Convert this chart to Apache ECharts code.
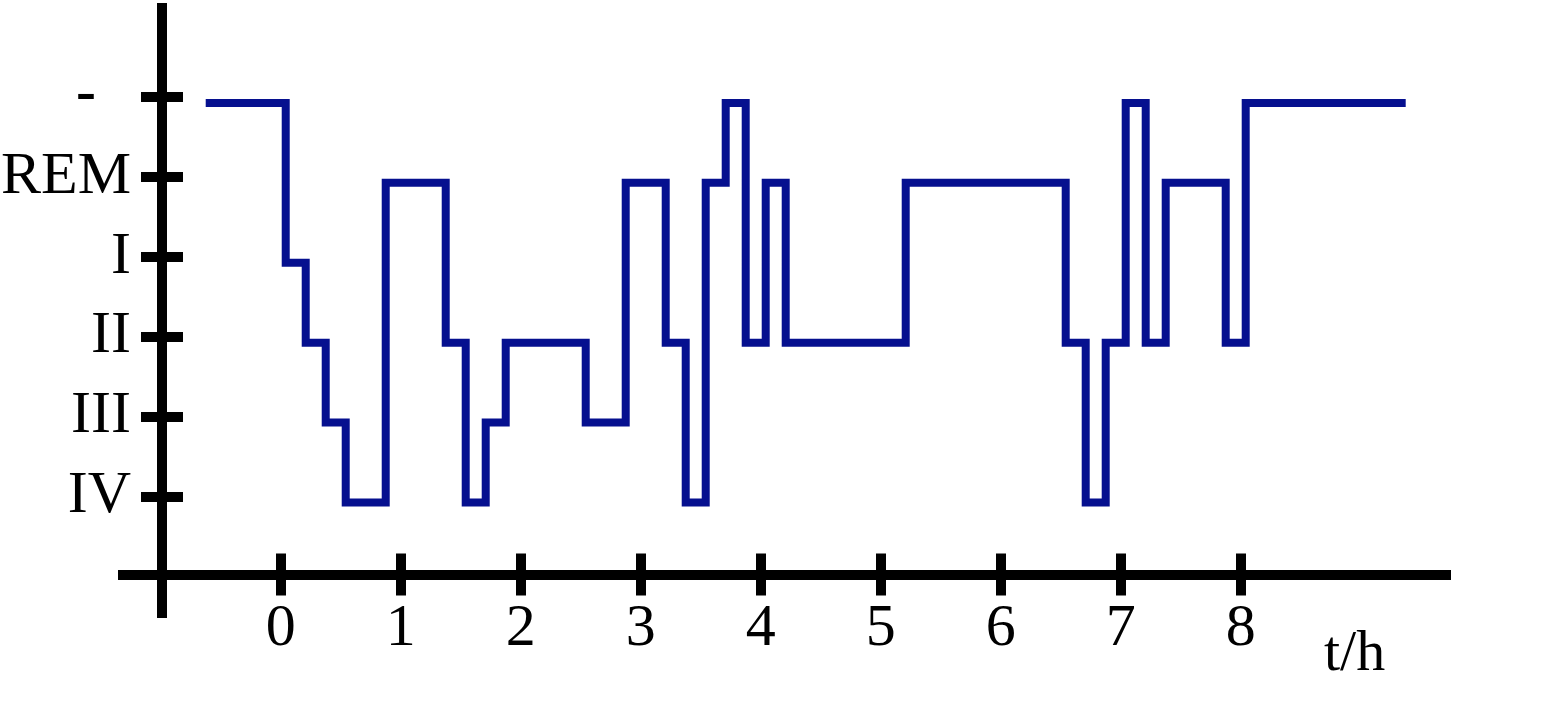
<!DOCTYPE html>
<html>
<head>
<meta charset="utf-8">
<title>Hypnogram</title>
<script src="https://cdn.jsdelivr.net/npm/echarts@6/dist/echarts.min.js"></script>
<style>
    html, body { margin: 0; padding: 0; background: #fff; }
    #chart { width: 1560px; height: 708px; }
</style>
</head>
<body>
<div id="chart"></div>
<script>
// sleep stages, lowest first (IV = deep sleep, '-' = awake)
var stageNames = ['IV', 'III', 'II', 'I', 'REM', '-'];
// start of each stage in minutes after sleep onset (last entry = end of record)
var stageStart = [-40, 0, 10, 20, 30, 50, 80, 90, 100, 110, 150, 170, 190, 200, 210,
    220, 230, 240, 250, 310, 390, 400, 410, 420, 430, 440, 470, 480, 560];
var stageSeq = ['-', 'I', 'II', 'III', 'IV', 'REM', 'II', 'IV', 'III', 'II', 'III', 'REM', 'II', 'IV', 'REM',
    '-', 'II', 'REM', 'II', 'REM', 'II', 'IV', 'II', '-', 'II', 'REM', 'II', '-', '-'];
// tick labels
var hourTicks = [0, 1, 2, 3, 4, 5, 6, 7, 8];
var stageTicks = [1, 2, 3, 4, 5, 6];

(function () {
    var myChart = echarts.init(document.getElementById('chart'));
    var font = 'Liberation Serif';

    // axis ranges (hours / stage level)
    var xMin = -1.356, xMax = 9.7525;
    var yMin = -0.521, yMax = 7.176;
    // the curve is drawn a few pixels right and below the ticks in the original
    var dx = 5 / 120, dy = 6 / 79.9;

    var points = [];
    for (var i = 0; i < stageStart.length; i++) {
        points.push([stageStart[i] / 60, stageNames.indexOf(stageSeq[i]) + 1]);
    }

    var axisLine = { onZero: false, lineStyle: { color: '#000', width: 10, cap: 'butt' } };
    var tickStyle = { color: '#000', width: 10, cap: 'butt' };

    var option = {
        animation: false,
        title: {
            text: 't/h',
            left: 1319,
            top: 621,
            textStyle: { fontFamily: font, fontSize: 58, fontWeight: 'normal', color: '#000' }
        },
        grid: { left: 118, right: 109, top: 3, bottom: 90, outerBoundsMode: 'none', containLabel: false },
        xAxis: [{
            type: 'value', min: xMin, max: xMax, position: 'bottom', offset: -43.5,
            axisLine: axisLine,
            axisTick: { customValues: hourTicks, length: 21, lineStyle: tickStyle },
            axisLabel: { customValues: hourTicks, fontFamily: font, fontSize: 60, color: '#000', margin: 25 },
            splitLine: { show: false }
        }, {
            type: 'value', min: xMin, max: xMax, position: 'bottom', offset: -43.5,
            axisLine: { show: false, onZero: false },
            axisTick: { customValues: hourTicks, inside: true, length: 21, lineStyle: tickStyle },
            axisLabel: { show: false },
            splitLine: { show: false }
        }, {
            type: 'value', show: false, min: xMin - dx, max: xMax - dx
        }],
        yAxis: [{
            type: 'value', min: yMin, max: yMax, position: 'left', offset: -44,
            axisLine: axisLine,
            axisTick: { customValues: stageTicks, length: 21, lineStyle: tickStyle },
            axisLabel: {
                customValues: stageTicks, fontFamily: font, fontSize: 60, color: '#000', margin: 31,
                formatter: function (v) {
                    var s = stageNames[v - 1];
                    return s === '-' ? '{d|-}' : s;
                },
                rich: {
                    d: { fontFamily: font, fontSize: 60, fontWeight: 'bold', color: '#000', padding: [0, 35, 4, 0] }
                }
            },
            splitLine: { show: false }
        }, {
            type: 'value', min: yMin, max: yMax, position: 'left', offset: -44,
            axisLine: { show: false, onZero: false },
            axisTick: { customValues: stageTicks, inside: true, length: 21, lineStyle: tickStyle },
            axisLabel: { show: false },
            splitLine: { show: false }
        }, {
            type: 'value', show: false, min: yMin + dy, max: yMax + dy
        }],
        series: [{
            name: 'Schlafstadium',
            type: 'line',
            xAxisIndex: 2,
            yAxisIndex: 2,
            step: 'end',
            symbol: 'none',
            silent: true,
            lineStyle: { color: '#06108f', width: 8, cap: 'butt', join: 'miter' },
            data: points
        }]
    };

    myChart.setOption(option);
})();
</script>
</body>
</html>
